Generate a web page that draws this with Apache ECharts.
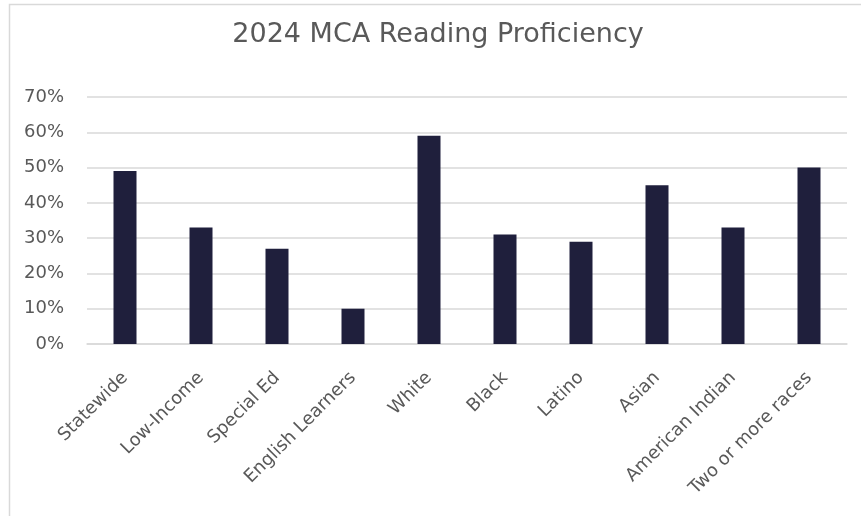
<!DOCTYPE html>
<html>
<head>
<meta charset="utf-8">
<script src="https://cdn.jsdelivr.net/npm/echarts@6/dist/echarts.min.js"></script>
<style>
html,body{margin:0;padding:0;background:#fff;}
#chart{width:861px;height:516px;}
</style>
</head>
<body>
<div id="chart"></div>
<script>
const categories = ["Statewide","Low-Income","Special Ed","English Learners","White","Black","Latino","Asian","American Indian","Two or more races"];
const values = [49, 33, 27, 10, 59, 31, 29, 45, 33, 50];
const yTicks = [0, 10, 20, 30, 40, 50, 60, 70];
const titleText = "2024 MCA Reading Proficiency";

const chart = echarts.init(document.getElementById('chart'), null, {renderer:'canvas'});
chart.setOption({
  backgroundColor: '#ffffff',
  animation: false,
  graphic: [{
    type: 'rect',
    shape: {x: 9.5, y: 4.5, width: 900, height: 600},
    style: {fill: 'none', stroke: '#d9d9d9', lineWidth: 1.5},
    silent: true
  }],
  title: {
    text: titleText,
    left: 433, top: 16, textAlign: 'center',
    textStyle: {fontFamily: 'DejaVu Sans', fontWeight: 'normal', fontSize: 27, color: '#595959'}
  },
  grid: {left: 87, right: 14, top: 97, bottom: 172, containLabel: false},
  xAxis: {
    type: 'category',
    data: categories,
    axisLine: {show: true, lineStyle: {color: '#d9d9d9', width: 1.5}},
    axisTick: {show: false},
    axisLabel: {rotate: 45, margin: 31, interval: 0, fontFamily: 'DejaVu Sans', fontSize: 18, color: '#595959'}
  },
  yAxis: {
    type: 'value',
    min: yTicks[0], max: yTicks[yTicks.length-1], interval: 10,
    axisLine: {show: false},
    axisTick: {show: false},
    splitLine: {lineStyle: {color: '#d9d9d9', width: 1.5}},
    axisLabel: {margin: 23, fontFamily: 'DejaVu Sans', fontSize: 18, color: '#595959', formatter: v => v + '%'}
  },
  series: [{
    type: 'bar',
    data: values,
    barWidth: 23,
    itemStyle: {color: '#1f1f3c'}
  }]
});
</script>
</body>
</html>
